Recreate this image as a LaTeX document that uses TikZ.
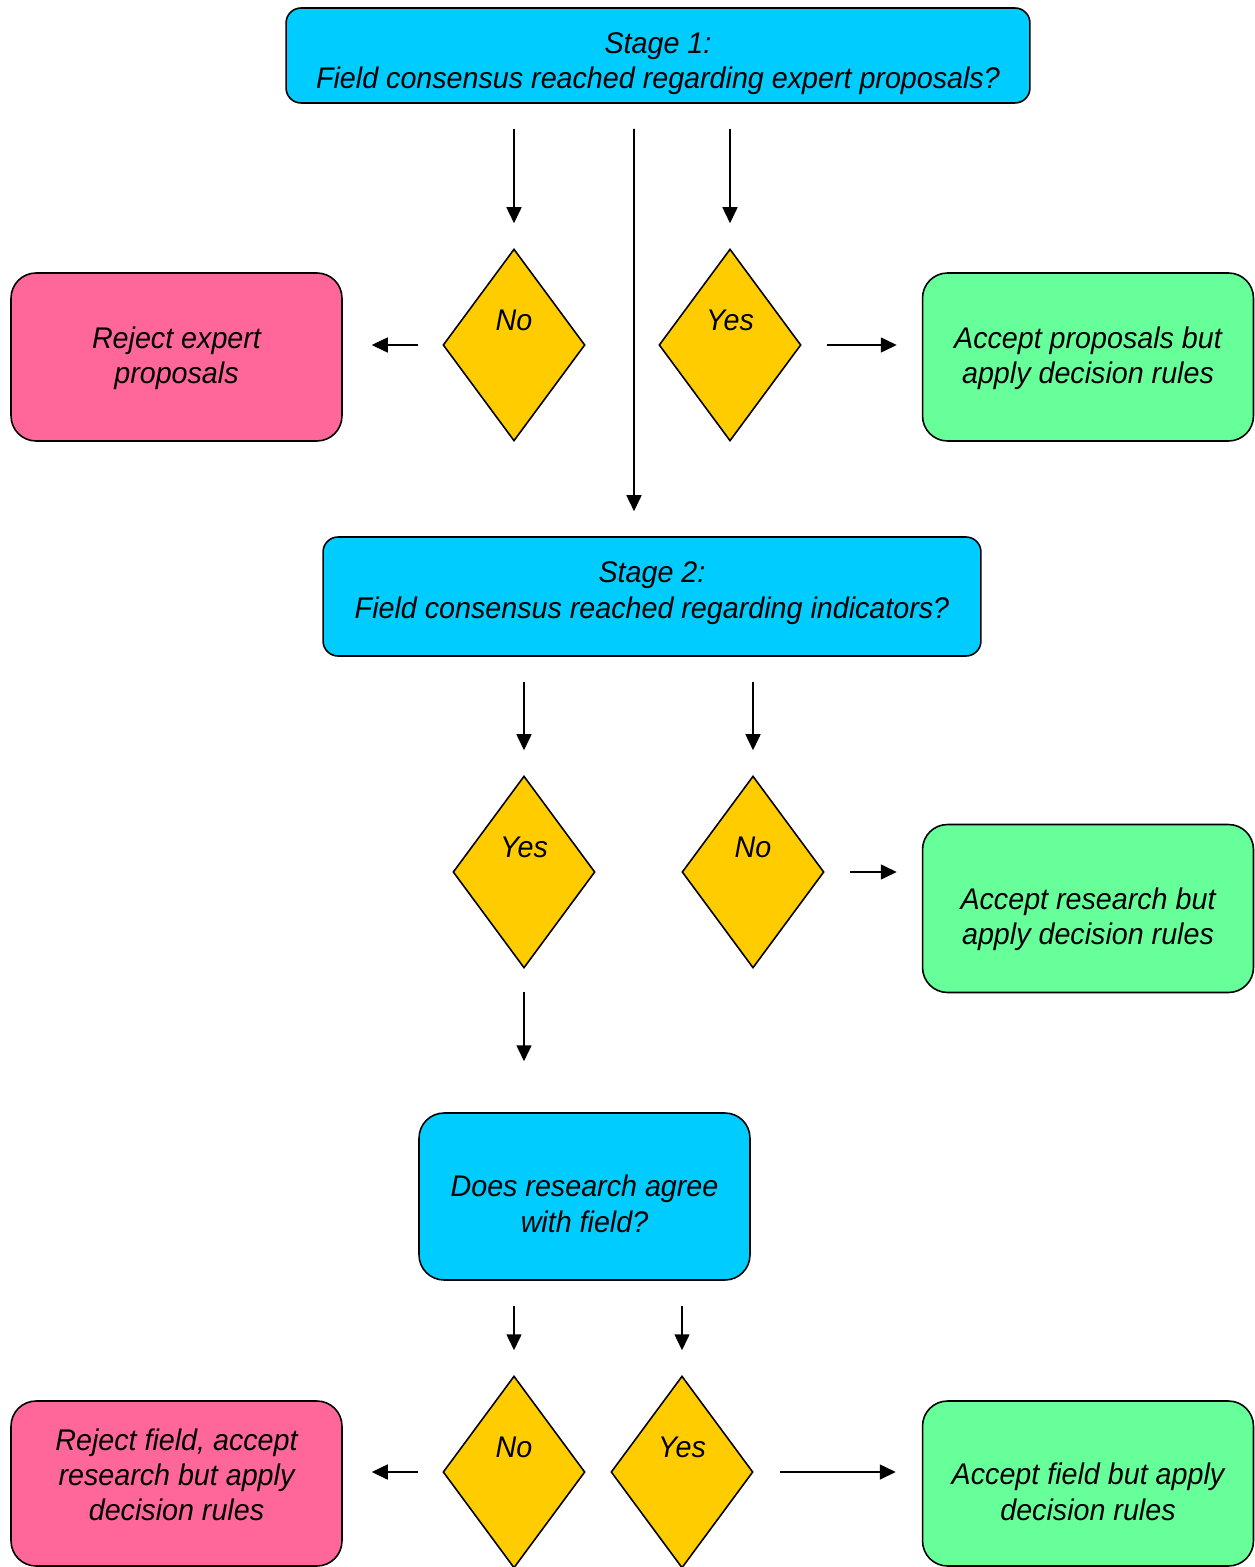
\documentclass[tikz,border=0pt]{standalone}
\usepackage{fontspec}
\setmainfont{Liberation Sans}[FakeStretch=0.96]
\usetikzlibrary{shapes.geometric, arrows.meta}

\definecolor{StageBlue}{HTML}{00CCFF}
\definecolor{RejectPink}{HTML}{FF6699}
\definecolor{AcceptGreen}{HTML}{66FF99}
\definecolor{ChoiceGold}{HTML}{FFCC00}

% centred lines, raised by #1 inside the box
\newcommand{\boxlines}[2]{\raisebox{#1}[0pt][0pt]{\begin{tabular}{@{}c@{}}#2\end{tabular}}}

\begin{document}
\begin{tikzpicture}[
        x=0.02cm, y=-0.02cm,
        line width=0.9pt,
        font=\fontsize{17}{20}\selectfont\itshape,
        stagebox/.style={draw, fill=StageBlue, rounded corners=0.3cm, inner sep=0},
        sidebox/.style={draw, rounded corners=0.5cm, inner sep=0,
            minimum width=6.62cm, minimum height=3.36cm},
        rejectbox/.style={sidebox, fill=RejectPink},
        acceptbox/.style={sidebox, fill=AcceptGreen},
        choice/.style={draw, diamond, fill=ChoiceGold, inner sep=0,
            minimum width=2.84cm, minimum height=3.84cm,
            text height=0.3cm, text depth=0.9cm},
        arr/.style={-{Triangle[length=0.32cm, width=0.3cm]}, shorten <=0.5cm, shorten >=0.5cm},
    ]

    \useasboundingbox (0,0) rectangle (1254,1567);

    % stage 1
    \node[stagebox, minimum width=14.88cm, minimum height=1.9cm] (s1) at (658,55.5)
        {\boxlines{-0.32cm}{Stage 1:\\Field consensus reached regarding expert proposals?}};
    \node[choice] (no1) at (514,345) {No};
    \node[choice] (yes1) at (730,345) {Yes};
    \node[rejectbox] (rej1) at (176.5,357) {\boxlines{-0.19cm}{Reject expert\\proposals}};
    \node[acceptbox] (acc1) at (1088,357) {\boxlines{-0.19cm}{Accept proposals but\\apply decision rules}};

    % stage 2
    \node[stagebox, minimum width=13.16cm, minimum height=2.38cm] (s2) at (652,596.5)
        {\boxlines{-0.09cm}{Stage 2:\\Field consensus reached regarding indicators?}};
    \node[choice] (yes2) at (524,872) {Yes};
    \node[choice] (no2) at (753,872) {No};
    \node[acceptbox] (acc2) at (1088,908.5) {\boxlines{-0.38cm}{Accept research but\\apply decision rules}};

    % research check
    \node[stagebox, rounded corners=0.5cm, minimum width=6.62cm, minimum height=3.34cm] (q3) at (584.5,1196.5)
        {\boxlines{-0.37cm}{Does research agree\\with field?}};
    \node[choice] (no3) at (514,1472) {No};
    \node[choice] (yes3) at (682,1472) {Yes};
    \node[rejectbox, minimum height=3.3cm] (rej3) at (176.5,1483.5)
        {\boxlines{-0.05cm}{Reject field, accept\\research but apply\\decision rules}};
    \node[acceptbox, minimum height=3.3cm] (acc3) at (1088,1483.5)
        {\boxlines{-0.39cm}{Accept field but apply\\decision rules}};

    % connectors
    \draw[arr] (s1.south -| no1) -- (no1.north);
    \draw[arr] (s1.south -| yes1) -- (yes1.north);
    \draw[arr] ([xshift=-0.48cm]s1.south) -- ([xshift=-0.36cm]s2.north);
    \draw[arr, shorten <=0.48cm, shorten >=0.58cm] (no1.west) -- (no1.west -| rej1.east);
    \draw[arr] (yes1.east) -- (yes1.east -| acc1.west);

    \draw[arr] (s2.south -| yes2) -- (yes2.north);
    \draw[arr] (s2.south -| no2) -- (no2.north);
    \draw[arr] (no2.east) -- (no2.east -| acc2.west);
    \draw[arr, shorten <=0.46cm, shorten >=1.02cm] (yes2.south) -- (yes2.south |- q3.north);

    \draw[arr] (q3.south -| no3) -- (no3.north);
    \draw[arr] (q3.south -| yes3) -- (yes3.north);
    \draw[arr, shorten <=0.48cm, shorten >=0.58cm] (no3.west) -- (no3.west -| rej3.east);
    \draw[arr, shorten <=0.52cm, shorten >=0.52cm] (yes3.east) -- (yes3.east -| acc3.west);

\end{tikzpicture}
\end{document}
